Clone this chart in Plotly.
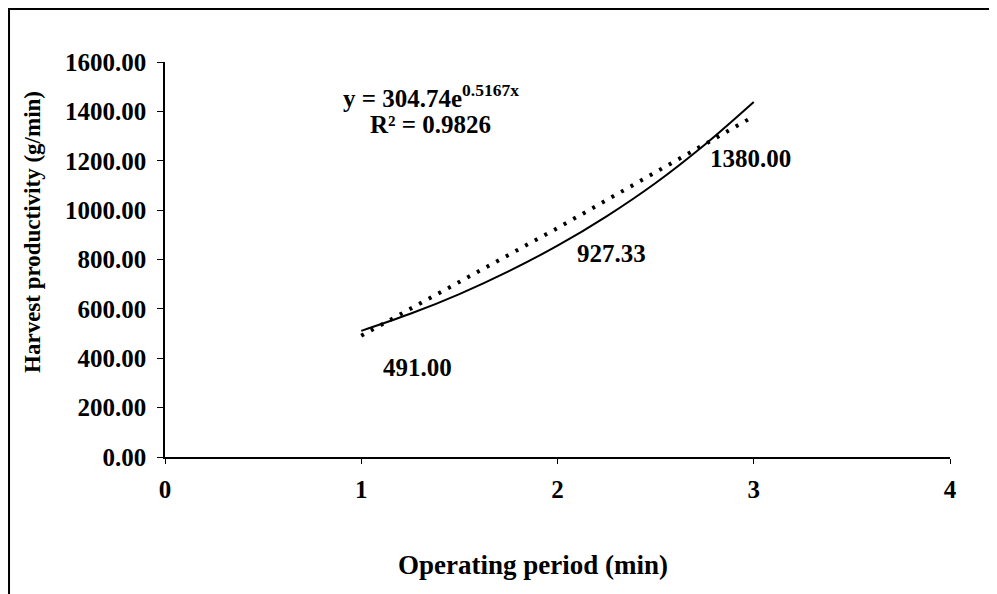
import plotly.graph_objects as go

# measured harvest productivity
period = [1, 2, 3]
productivity = [491.00, 927.33, 1380.00]
point_labels = ["491.00", "927.33", "1380.00"]

# exponential trendline, values
trend_x = [1.0, 1.25, 1.5, 1.75, 2.0, 2.25, 2.5, 2.75, 3.0]
trend_y = [511, 580, 660, 752, 856, 975, 1110, 1265, 1438]

x_ticks = [0, 1, 2, 3, 4]
y_ticks = [0, 200, 400, 600, 800, 1000, 1200, 1400, 1600]

FONT = "Liberation Serif"

fig = go.Figure()

fig.add_trace(go.Scatter(
    x=trend_x, y=trend_y, mode='lines', line_shape='spline',
    line=dict(color='black', width=2), showlegend=False, hoverinfo='skip'
))

fig.add_trace(go.Scatter(
    x=period, y=productivity, mode='lines',
    line=dict(color='black', width=4, dash='3px,8px'), showlegend=False
))

# data labels sit below-right of each point (pixel offsets)
offsets = [(56, 32), (54, 25), (-3, 42)]
for xv, yv, lab, (dx, dy) in zip(period, productivity, point_labels, offsets):
    fig.add_annotation(x=xv, y=yv, text=f"<b>{lab}</b>", showarrow=False,
                       xshift=dx, yshift=-dy, xanchor='center', yanchor='middle',
                       font=dict(family=FONT, size=25, color='black'))

def paper_text(x, y, text, size, angle=0):
    fig.add_annotation(xref='paper', yref='paper', x=x, y=y, text=text,
                       showarrow=False, textangle=angle,
                       xanchor='center', yanchor='middle',
                       font=dict(family=FONT, size=size, color='black'))

paper_text(0.339, 0.913, "<b>y = 304.74e<sup>0.5167x</sup></b>", 25)
paper_text(0.338, 0.841, "<b>R² = 0.9826</b>", 25)

# axis titles
paper_text(0.469, -0.273, "<b>Operating period (min)</b>", 27)
paper_text(-0.168, 0.57, "<b>Harvest productivity (g/min)</b>", 23, angle=-90)

# outer chart frame
fig.add_shape(type='rect', xref='paper', yref='paper',
              x0=-0.1987, x1=1.0535, y0=-0.42, y1=1.134,
              line=dict(color='black', width=2))

fig.update_layout(
    width=997, height=594,
    margin=dict(l=157, r=55, t=54, b=145),
    plot_bgcolor='white', paper_bgcolor='white',
    font=dict(family=FONT, color='black'),
    xaxis=dict(
        range=[0, 4], tickvals=x_ticks, showgrid=False, zeroline=False, automargin=False,
        showline=True, linecolor='black', linewidth=1.5,
        ticks='outside', ticklen=5, tickcolor='black', ticklabelstandoff=4,
        tickfont=dict(family=FONT, size=25, color='black', weight='bold'),
    ),
    yaxis=dict(
        range=[0, 1600], tickvals=y_ticks, tickformat='.2f', showgrid=False, zeroline=False,
        automargin=False, showline=True, linecolor='black', linewidth=1.5,
        ticks='outside', ticklen=6, tickcolor='black', ticklabelstandoff=6,
        tickfont=dict(family=FONT, size=25, color='black', weight='bold'),
    ),
)

fig.write_html("out.html")
